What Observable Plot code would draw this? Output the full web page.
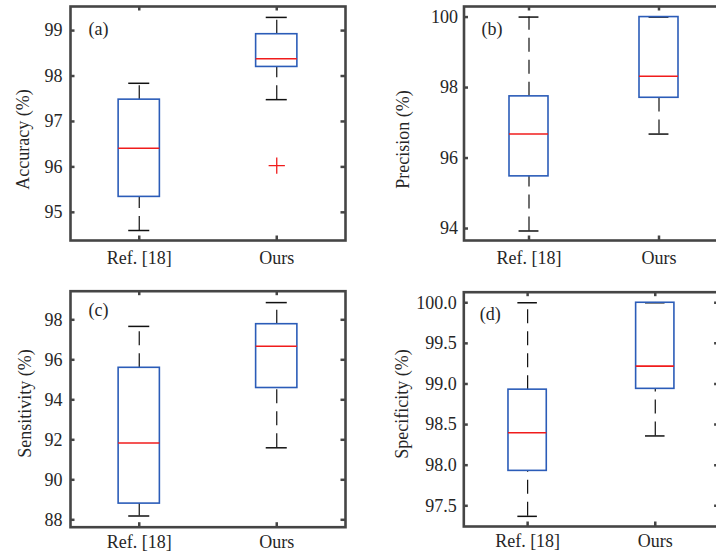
<!DOCTYPE html>
<html>
<head>
<meta charset="utf-8">
<script src="https://cdn.jsdelivr.net/npm/d3@7"></script>
<script src="https://cdn.jsdelivr.net/npm/@observablehq/plot@0.6"></script>
<style>
  html, body { margin: 0; padding: 0; background: #fff; overflow: hidden; }
  #fig { position: relative; width: 716px; height: 558px; overflow: hidden; background: #fff; }
  #fig > div { position: absolute; }
  #fig svg { display: block; overflow: visible; max-width: none !important; }
</style>
</head>
<body>
<div id="fig"></div>
<script>
const categories = ["Ref. [18]", "Ours"];

// Five-number summaries per method: [lower whisker, Q1, median, Q3, upper whisker]
const accuracy = [[94.60, 95.34, 96.41, 97.48, 97.84], [97.48, 98.20, 98.38, 98.92, 99.29]];
const accuracyOutliers = [[], [96.03]];
const precision = [[93.93, 95.48, 96.68, 97.75, 100.0], [96.68, 97.71, 98.32, 100.0, 100.0]];
const sensitivity = [[88.19, 88.81, 91.84, 95.60, 97.67], [91.60, 94.59, 96.68, 97.78, 98.86]];
const specificity = [[97.37, 97.93, 98.40, 98.93, 100.0], [98.36, 98.94, 99.22, 100.0, 100.0]];

const accuracyTicks = [95, 96, 97, 98, 99];
const precisionTicks = [94, 96, 98, 100];
const sensitivityTicks = [88, 90, 92, 94, 96, 98];
const specificityTicks = [97.5, 98.0, 98.5, 99.0, 99.5, 100.0];

const serif = '"Liberation Serif", "Times New Roman", serif';
const textColor = "#262626";
const axisColor = "#454545";
const boxBlue = "#2b5cb8";
const medianRed = "#f01c1c";

function boxPanel({stats, outliers = [[], []], ticks, tickFormat, domain, label, tag,
                   left, top, width, height, margin, labelPos, tagPos, xPad, yPad}) {
  const [mt, mr, mb, ml] = margin;
  const fw = width - ml - mr, fh = height - mt - mb;
  const rows = stats.map((s, i) => ({x: i + 1, lo: s[0], q1: s[1], med: s[2], q3: s[3], hi: s[4]}));
  const out = outliers.flatMap((o, i) => o.map(v => ({x: i + 1, v})));
  const boxHalf = 0.15, capHalf = 0.0765, tickLen = 4.5;
  const whisker = {stroke: "#111", strokeWidth: 1.2, strokeDasharray: "14,8"};
  const cap = {stroke: "#111", strokeWidth: 1.5};
  const tickStyle = {stroke: axisColor, strokeWidth: 2.5};
  const font = {fontFamily: serif, fontSize: 18, fill: textColor};

  const svg = Plot.plot({
    width, height,
    marginTop: mt, marginRight: mr, marginBottom: mb, marginLeft: ml,
    style: {
      fontFamily: serif,
      fontSize: "18px",
      color: textColor,
      background: "transparent",
      overflow: "visible"
    },
    x: {domain: [0.5, 2.5]},
    y: {domain},
    marks: [
      // whiskers: the lower one runs up from the minimum, the upper one up from Q3
      Plot.ruleX(rows, {x: "x", y1: "lo", y2: "q1", ...whisker}),
      Plot.ruleX(rows, {x: "x", y1: "q3", y2: "hi", ...whisker}),
      Plot.ruleY(rows, {y: "lo", x1: d => d.x - capHalf, x2: d => d.x + capHalf, ...cap}),
      Plot.ruleY(rows, {y: "hi", x1: d => d.x - capHalf, x2: d => d.x + capHalf, ...cap}),
      // interquartile boxes and medians
      Plot.rect(rows, {x1: d => d.x - boxHalf, x2: d => d.x + boxHalf, y1: "q1", y2: "q3",
                       fill: "none", stroke: boxBlue, strokeWidth: 1.6}),
      Plot.ruleY(rows, {y: "med", x1: d => d.x - boxHalf, x2: d => d.x + boxHalf,
                        stroke: medianRed, strokeWidth: 1.6}),
      Plot.dot(out, {x: "x", y: "v", symbol: "plus", r: 5.3, stroke: medianRed, strokeWidth: 1.3}),
      // inward tick marks on all four sides of the box
      Plot.tickY(ticks, {y: d => d, insetRight: fw - tickLen, ...tickStyle}),
      Plot.tickY(ticks, {y: d => d, insetLeft: fw - tickLen, ...tickStyle}),
      Plot.tickX([1, 2], {x: d => d, insetBottom: fh - tickLen, ...tickStyle}),
      Plot.tickX([1, 2], {x: d => d, insetTop: fh - tickLen, ...tickStyle}),
      Plot.frame({stroke: axisColor, strokeWidth: 2.6}),
      Plot.axisY(ticks, {tickSize: 0, tickPadding: yPad, tickFormat, label: null, ...font}),
      Plot.axisX([1, 2], {tickSize: 0, tickPadding: xPad, tickFormat: d => categories[d - 1],
                          label: null, ...font}),
      // rotated axis title and panel tag
      Plot.text([label], {frameAnchor: "top-left", dx: labelPos[0] - ml, dy: labelPos[1] - mt,
                          rotate: -90, textAnchor: "middle", lineAnchor: "middle", ...font}),
      Plot.text([tag], {frameAnchor: "top-left", dx: tagPos[0] - ml, dy: tagPos[1] - mt,
                        textAnchor: "start", lineAnchor: "top", ...font})
    ]
  });

  const holder = document.createElement("div");
  holder.style.left = left + "px";
  holder.style.top = top + "px";
  holder.style.width = width + "px";
  holder.style.height = height + "px";
  svg.style.maxWidth = "none";
  svg.style.width = width + "px";
  svg.style.height = height + "px";
  holder.appendChild(svg);
  document.getElementById("fig").appendChild(holder);
}

boxPanel({
  stats: accuracy, outliers: accuracyOutliers, ticks: accuracyTicks, tickFormat: d => d,
  domain: [94.38, 99.53], label: "Accuracy (%)", tag: "(a)",
  left: 0, top: 0, width: 358, height: 280, margin: [6, 13, 40, 70],
  labelPos: [23, 139], tagPos: [88, 22], xPad: 11, yPad: 8
});

boxPanel({
  stats: precision, ticks: precisionTicks, tickFormat: d => d,
  domain: [93.66, 100.30], label: "Precision (%)", tag: "(b)",
  left: 358, top: 0, width: 378, height: 280, margin: [6, 12.5, 40, 105.5],
  labelPos: [44.7, 139], tagPos: [123, 22], xPad: 11, yPad: 6
});

boxPanel({
  stats: sensitivity, ticks: sensitivityTicks, tickFormat: d => d,
  domain: [87.63, 99.43], label: "Sensitivity (%)", tag: "(c)",
  left: 0, top: 280, width: 358, height: 278, margin: [10.7, 13, 31.3, 70],
  labelPos: [25, 123], tagPos: [88, 23], xPad: 8, yPad: 8
});

boxPanel({
  stats: specificity, ticks: specificityTicks, tickFormat: d3.format(".1f"),
  domain: [97.245, 100.13], label: "Specificity (%)", tag: "(d)",
  left: 358, top: 280, width: 378, height: 278, margin: [11.7, 17.4, 32, 105.3],
  labelPos: [44, 123.5], tagPos: [121.3, 27], xPad: 8, yPad: 7
});
</script>
</body>
</html>
